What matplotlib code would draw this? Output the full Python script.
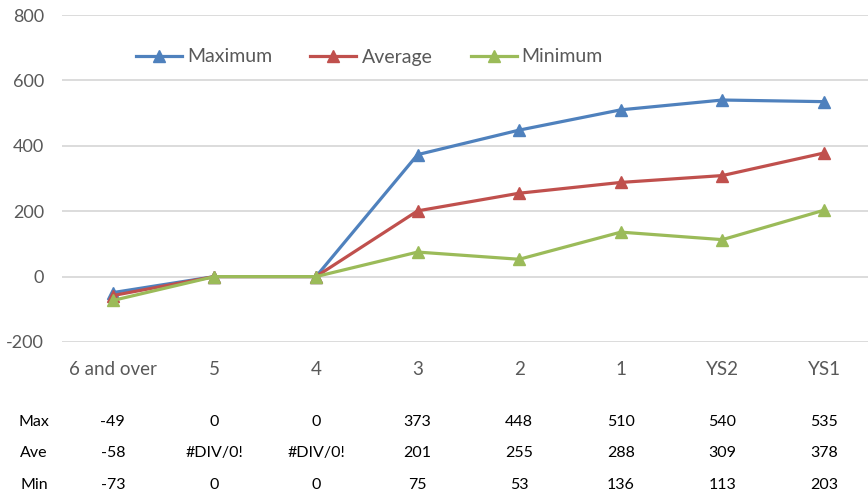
#!/usr/bin/env python3

import numpy as np
from matplotlib import pyplot as plt

categories = ["6 and over", "5", "4", "3", "2", "1", "YS2", "YS1"]
max_vals = [-49, 0, 0, 373, 448, 510, 540, 535]
ave_vals = [-58, 0, 0, 201, 255, 288, 309, 378]   # #DIV/0! cells plot as 0
min_vals = [-73, 0, 0, 75, 53, 136, 113, 203]
ave_labels = ["-58", "#DIV/0!", "#DIV/0!", "201", "255", "288", "309", "378"]

BLUE = "#4F81BD"
RED = "#C0504D"
GREEN = "#9BBB59"
GREY = "#595959"

plt.rcParams['font.family'] = ['Lato', 'DejaVu Sans']
plt.rcParams['axes.unicode_minus'] = False


def draw_chart():
    fig = plt.figure(figsize=(8.68, 4.99), dpi=100)
    W, H = 868, 499
    left, right = 62 / W, 1.0
    bottom, top = 1 - 342 / H, 1 - 15 / H
    ax = fig.add_axes([left, bottom, right - left, top - bottom])

    x = np.arange(len(categories))
    for vals, color, name in ((max_vals, BLUE, "Maximum"),
                              (ave_vals, RED, "Average"),
                              (min_vals, GREEN, "Minimum")):
        ax.plot(x, vals, color=color, lw=2.3, marker="^", ms=8,
                markeredgecolor=color, label=name, clip_on=False)

    step = 101.6
    ax.set_xlim(-0.5, -0.5 + (W - 62) / step)
    ax.set_ylim(-200, 800)
    ax.set_yticks(np.arange(-200, 801, 200))
    ax.set_xticks(x)
    ax.set_xticklabels(categories)
    ax.grid(axis="y", color="#D9D9D9", lw=1.3)
    ax.set_axisbelow(True)
    for s in ax.spines.values():
        s.set_visible(False)
    ax.tick_params(axis="y", length=0, pad=13, labelsize=13, labelcolor=GREY)
    ax.tick_params(axis="x", length=0, pad=14, labelsize=13.5, labelcolor=GREY)

    ax.legend(loc="center left", bbox_to_anchor=(136 / W, 1 - 57 / H),
              bbox_transform=fig.transFigure, ncol=3, frameon=False,
              fontsize=14, labelcolor=GREY, handlelength=2.37,
              handletextpad=0.26, columnspacing=1.96,
              borderpad=0, borderaxespad=0)

    # data table below the axis
    rows = [("Max", [str(v) for v in max_vals], 422),
            ("Ave", ave_labels, 453),
            ("Min", [str(v) for v in min_vals], 485)]
    for name, labels, py in rows:
        fy = 1 - py / H
        fig.text(34 / W, fy, name, ha="center", va="center", fontsize=11.5)
        for i, lab in enumerate(labels):
            fx = left + (i + 0.5) * step / W
            fig.text(fx, fy, lab, ha="center", va="center", fontsize=11.5)

    fig.savefig("out.png", dpi=100)


if __name__ == '__main__':
    draw_chart()
